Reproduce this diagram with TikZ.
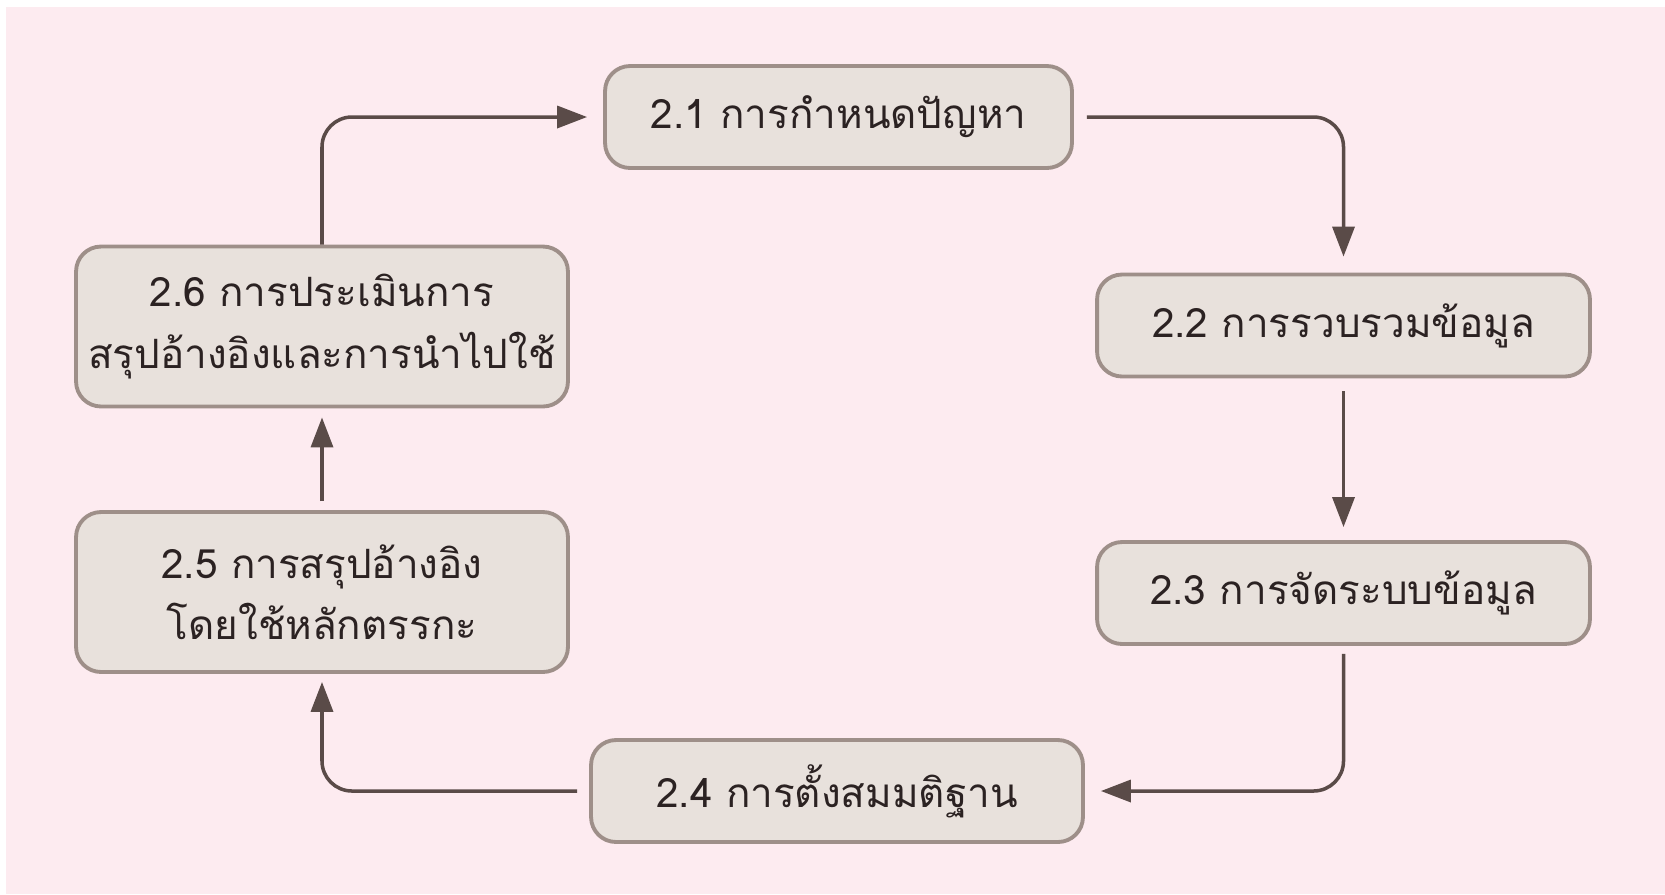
\documentclass[tikz,border=0pt]{standalone}
\usepackage{fontspec}
\usepackage{xcolor}
\newfontfamily\thaifont[Script=Thai]{Loma}
\usetikzlibrary{arrows.meta, positioning, calc}

\definecolor{bgpink}{HTML}{FDEBF0}
\definecolor{boxfill}{HTML}{E8E1DC}
\definecolor{boxline}{HTML}{9E8F89}
\definecolor{flowline}{HTML}{5A4B48}
\definecolor{textdark}{HTML}{2B2222}

\tikzset{
    stepbox/.style={draw=boxline, fill=boxfill, line width=2.2pt, rounded corners=0.5cm,
        minimum width=9.6cm, minimum height=2.04cm, align=center,
        text=textdark, font=\thaifont\fontsize{23}{35}\selectfont},
    tallbox/.style={stepbox, minimum height=3.2cm},
    flow/.style={draw=flowline, line width=2pt, rounded corners=0.6cm,
        -{Triangle[length=0.6cm, width=0.44cm]}}
}

\begin{document}
\begin{tikzpicture}[x=0.02cm, y=-0.02cm]
    \useasboundingbox (0,0) rectangle (1665,894);
    \fill[bgpink] (6,7) rectangle (1665,894);

    \node[stepbox, minimum width=9.34cm] (p1) at (838.5,117) {2.1 การกำหนดปัญหา};
    \node[stepbox, minimum width=9.86cm] (p2) at (1343.5,325.5) {2.2 การรวบรวมข้อมูล};
    \node[stepbox, minimum width=9.86cm] (p3) at (1343.5,593) {2.3 การจัดระบบข้อมูล};
    \node[stepbox, minimum width=9.84cm] (p4) at (837,791) {2.4 การตั้งสมมติฐาน};
    \node[tallbox, minimum width=9.84cm] (p5) at (322,592) {2.5 การสรุปอ้างอิง\\โดยใช้หลักตรรกะ};
    \node[tallbox, minimum width=9.84cm] (p6) at (322,326.5) {2.6 การประเมินการ\\สรุปอ้างอิงและการนำไปใช้};

    \draw[flow, shorten >=0.32cm] (p6.north) |- (p1.west);
    \draw[flow, shorten <=0.26cm, shorten >=0.32cm] (p1.east) -| (p2.north);
    \draw[flow, shorten <=0.26cm, shorten >=0.26cm] (p2.south) -- (p3.north);
    \draw[flow, shorten <=0.16cm, shorten >=0.32cm] (p3.south) |- (p4.east);
    \draw[flow, shorten <=0.24cm, shorten >=0.16cm] (p4.west) -| (p5.south);
    \draw[flow, shorten <=0.18cm, shorten >=0.18cm] (p5.north) -- (p6.south);
\end{tikzpicture}
\end{document}
